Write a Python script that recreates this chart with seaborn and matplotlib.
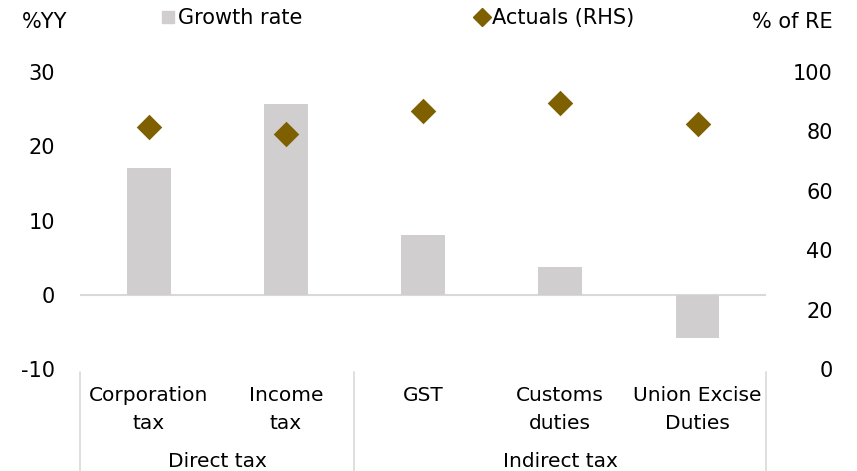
import matplotlib
matplotlib.use('Agg')
import matplotlib.pyplot as plt
from matplotlib.lines import Line2D
import seaborn as sns
import pandas as pd

# Data
categories = ['Corporation\ntax', 'Income\ntax', 'GST', 'Customs\nduties', 'Union Excise\nDuties']
growth_rate = [17.1, 25.7, 8.1, 3.8, -5.8]
actuals_rhs = [81.5, 79.3, 86.9, 89.6, 82.5]
groups = ['Direct tax', 'Indirect tax']
group_sizes = [2, 3]

df = pd.DataFrame({'category': categories, 'growth': growth_rate, 'actuals': actuals_rhs})

bar_color = '#D0CECE'
dot_color = '#7F6000'

sns.set_theme(style='white')
plt.rcParams['font.family'] = ['DejaVu Sans']
plt.rcParams['axes.unicode_minus'] = False
plt.rcParams['text.color'] = 'black'

fig = plt.figure(figsize=(8.57, 4.71), dpi=100)
ax = fig.add_axes([0.0933, 0.2166, 0.8007, 0.6304])

sns.barplot(data=df, x='category', y='growth', color=bar_color, width=0.32,
            saturation=1, linewidth=0, ax=ax)
ax.set_ylim(-10, 30)
ax.set_yticks([-10, 0, 10, 20, 30])
ax.axhline(0, color='#D9D9D9', lw=1.5, zorder=0.5)
ax.set_xlim(-0.5, 4.5)

ax2 = ax.twinx()
sns.stripplot(data=df, x='category', y='actuals', color=dot_color, marker='D',
              size=13, jitter=False, linewidth=0, ax=ax2, zorder=3)
ax2.set_ylim(0, 100)
ax2.set_yticks([0, 20, 40, 60, 80, 100])
ax2.set_xlim(-0.5, 4.5)

for a in (ax, ax2):
    for s in a.spines.values():
        s.set_visible(False)
    a.set_xlabel('')
    a.set_ylabel('')

ax.tick_params(axis='y', length=0, pad=18, labelsize=15, colors='black')
ax2.tick_params(axis='y', length=0, pad=48, labelsize=15, colors='black')
for t in ax2.get_yticklabels():
    t.set_ha('right')

ax.set_xticks(range(len(categories)))
ax.set_xticklabels(categories, fontsize=14.5, linespacing=1.57, color='black')
ax.tick_params(axis='x', length=0, pad=12.5, colors='black')

# group labels and separators
sep_kw = dict(color='#D9D9D9', lw=1.2, transform=ax.transAxes, clip_on=False)
n = len(categories)
pos = 0
edges = [0]
for g, size in zip(groups, group_sizes):
    mid = (pos + size / 2) / n
    ax.text(mid, -0.31, g, transform=ax.transAxes, ha='center', va='center',
            fontsize=14.5, color='black')
    pos += size
    edges.append(pos)
for e in edges:
    x = e / n
    ax.add_line(Line2D([x, x], [-0.01, -0.345], **sep_kw))

# axis titles
fig.text(22 / 857, 1 - 22 / 471, '%YY', fontsize=15, ha='left', va='center')
fig.text(833 / 857, 1 - 22 / 471, '% of RE', fontsize=15, ha='right', va='center')

# legend
handles = [
    Line2D([], [], marker='s', color=bar_color, lw=0, markersize=9, label='Growth rate'),
    Line2D([], [], marker='D', color=dot_color, lw=0, markersize=9, label='Actuals (RHS)'),
]
fig.legend(handles=handles, loc='center left', bbox_to_anchor=(151 / 857, 1 - 18 / 471),
           ncol=2, frameon=False, fontsize=15, handlelength=0.6, handletextpad=0.2,
           columnspacing=8.3, borderpad=0)

fig.savefig('out.png', dpi=100)
